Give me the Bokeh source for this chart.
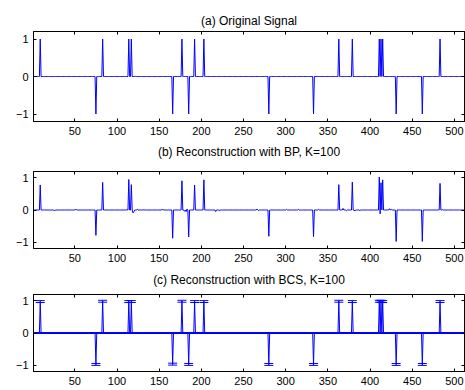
import numpy as np
from bokeh.plotting import figure
from bokeh.layouts import column
from bokeh.models import (LinearAxis, Range1d, Whisker, TeeHead, ColumnDataSource,
                          FixedTicker, Spacer)
from bokeh.embed import file_html
from bokeh.resources import INLINE

N = 512
# spike positions and signs of the original signal
spike_idx = [9, 75, 83, 114, 117, 166, 177, 185, 192, 203, 280, 333, 363, 379,
             411, 413, 415, 431, 462, 483]
spike_val = [1, -1, 1, 1, 1, -1, 1, -1, 1, 1, -1, -1, 1, 1, 1, 1, 1, -1, -1, 1]

# BP reconstruction: values at the spikes and small spurious entries
bp_spike_val = [0.78, -0.79, 0.86, 0.95, 0.79, -0.88, 0.91, -0.84, 0.78, 0.94,
                -0.82, -0.83, 0.79, 0.87, 1.03, 0.85, 0.94, -0.98, -0.98, 0.83]
bp_noise_idx = [26, 51, 112, 119, 120, 124, 132, 154, 180, 182, 183, 217, 222,
                266, 268, 301, 315, 339, 368, 372, 382, 388, 412, 423, 425, 486]
bp_noise_val = [-0.03, 0.03, 0.01, -0.09, -0.05, 0.02, 0.01, 0.03, -0.04, -0.05, 0.03,
                -0.05, -0.02, 0.03, -0.02, 0.02, 0.02, 0.02, 0.05, -0.02, -0.03,
                -0.02, -0.12, 0.04, 0.02, 0.01]

# BCS reconstruction: posterior means and error bars at the spikes
bcs_spike_val = [0.98, -0.98, 0.99, 0.98, 0.98, -0.97, 0.99, -0.98, 0.98, 0.98,
                 -0.98, -0.98, 0.99, 0.98, 0.99, 0.99, 0.98, -0.98, -0.98, 0.98]
bcs_spike_err = [0.03, 0.03, 0.03, 0.03, 0.03, 0.03, 0.03, 0.03, 0.03, 0.03,
                 0.03, 0.03, 0.03, 0.03, 0.03, 0.03, 0.03, 0.03, 0.03, 0.03]
bcs_zero_err = 0.012

x_ticks = [50, 100, 150, 200, 250, 300, 350, 400, 450, 500]
y_ticks = [-1, 0, 1]

titles = ["(a) Original Signal", "(b) Reconstruction with BP, K=100",
          "(c) Reconstruction with BCS, K=100"]

x = np.arange(1, N + 1)
sig_a = np.zeros(N)
sig_b = np.zeros(N)
sig_c = np.zeros(N)
err_c = np.full(N, bcs_zero_err)
for i, v, vb, vc, ec in zip(spike_idx, spike_val, bp_spike_val, bcs_spike_val, bcs_spike_err):
    sig_a[i - 1] = v
    sig_b[i - 1] = vb
    sig_c[i - 1] = vc
    err_c[i - 1] = ec
for i, v in zip(bp_noise_idx, bp_noise_val):
    sig_b[i - 1] = v

FONT = "Liberation Sans"
BLUE = "#0000ff"


def make_fig(title, frame_h, bottom_b, title_gap):
    p = figure(frame_width=431, frame_height=frame_h,
               x_range=Range1d(1, 512), y_range=Range1d(-1.2, 1.2),
               output_backend="svg", toolbar_location=None,
               min_border_left=33, min_border_right=1,
               min_border_top=0, min_border_bottom=bottom_b)
    p.grid.visible = False
    p.outline_line_color = "black"
    p.outline_line_width = 1
    p.background_fill_color = "white"
    p.border_fill_color = "white"
    for ax in (p.xaxis[0], p.yaxis[0]):
        ax.major_tick_in = 3
        ax.major_tick_out = 0
        ax.minor_tick_line_color = None
        ax.axis_line_color = "black"
        ax.major_tick_line_color = "black"
        ax.major_label_text_font = FONT
        ax.major_label_text_font_size = "11px"
        ax.major_label_text_color = "black"
        ax.major_label_standoff = 5
    p.xaxis.ticker = FixedTicker(ticks=x_ticks)
    p.yaxis.ticker = FixedTicker(ticks=y_ticks)
    p.yaxis.major_label_overrides = {-1: "\u22121", 0: "0", 1: "1"}
    # ticks on the right side
    ax_r = LinearAxis(ticker=FixedTicker(ticks=y_ticks), major_tick_in=3, major_tick_out=0,
                      minor_tick_line_color=None, major_label_text_font_size="1px",
                      major_label_text_color=None, major_label_standoff=0,
                      axis_line_color="black", major_tick_line_color="black")
    p.add_layout(ax_r, "right")
    # ticks on top, carrying the panel title as its label
    ax_t = LinearAxis(ticker=FixedTicker(ticks=x_ticks), major_tick_in=3, major_tick_out=0,
                      minor_tick_line_color=None, major_label_text_font_size="1px",
                      major_label_text_color=None, major_label_standoff=0,
                      axis_line_color="black", major_tick_line_color="black",
                      axis_label=title, axis_label_standoff=title_gap,
                      axis_label_text_font=FONT, axis_label_text_font_size="12px",
                      axis_label_text_font_style="normal", axis_label_text_color="black")
    p.add_layout(ax_t, "above")
    return p


pa = make_fig(titles[0], 90, 20, 4)
pa.line(x, sig_a, line_color=BLUE, line_width=1)

pb = make_fig(titles[1], 77, 21, 13)
pb.line(x, sig_b, line_color=BLUE, line_width=1)

pc = make_fig(titles[2], 77, 18, 8)
src = ColumnDataSource(dict(x=x, y=sig_c, up=sig_c + err_c, lo=sig_c - err_c))
pc.line("x", "y", source=src, line_color=BLUE, line_width=1)
pc.add_layout(Whisker(source=src, base="x", upper="up", lower="lo",
                      line_color=BLUE, line_width=1,
                      upper_head=TeeHead(size=9, line_color=BLUE, line_width=1),
                      lower_head=TeeHead(size=9, line_color=BLUE, line_width=1)))

layout = column(Spacer(width=465, height=10), pa, pb, pc, spacing=0)
open("out.html", "w").write(file_html(layout, INLINE))
